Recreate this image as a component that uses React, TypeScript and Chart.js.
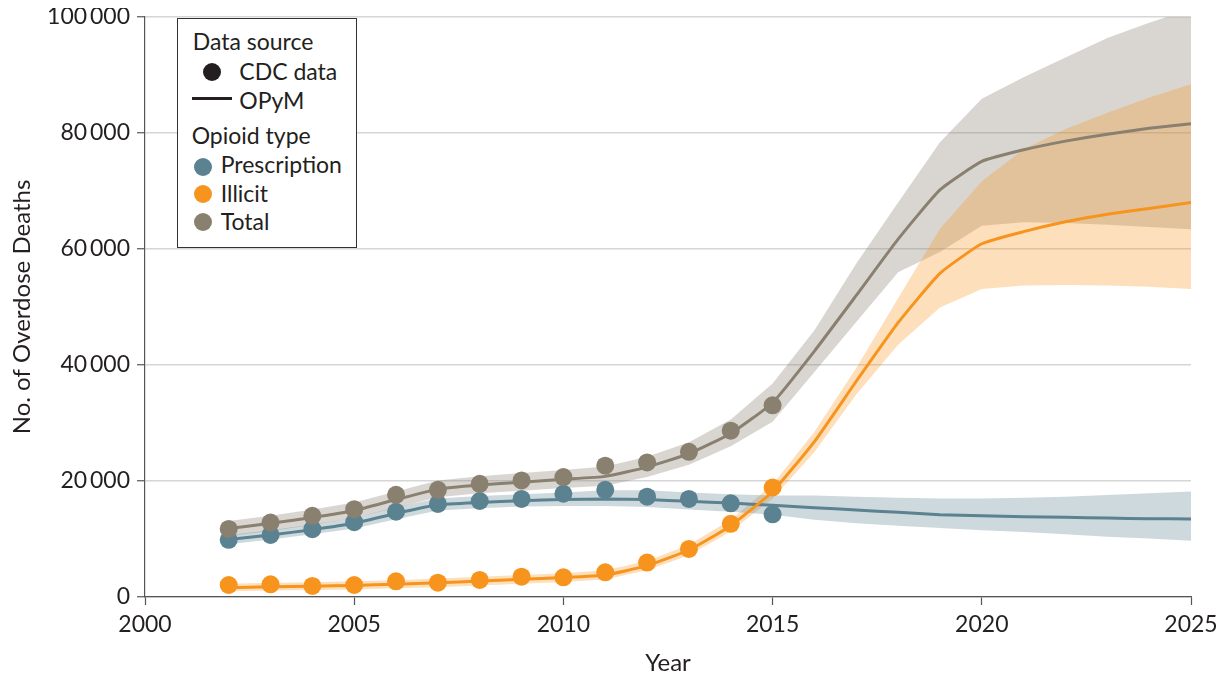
import React, { useEffect, useRef } from "react";
import { Chart, registerables } from "chart.js";

Chart.register(...registerables);

// ---- Data ----
const cdcYears = [2002, 2003, 2004, 2005, 2006, 2007, 2008, 2009, 2010, 2011, 2012, 2013, 2014, 2015];
const cdcPrescription = [9850, 10700, 11700, 12900, 14700, 16050, 16550, 16900, 17800, 18480, 17300, 16900, 16150, 14250];
const cdcIllicit = [2070, 2190, 1900, 2070, 2700, 2470, 2940, 3500, 3400, 4260, 5930, 8290, 12610, 18880];
const cdcTotal = [11740, 12830, 13990, 15150, 17620, 18480, 19520, 20090, 20670, 22650, 23200, 25040, 28670, 33040];

const modelYears = [2002, 2003, 2004, 2005, 2006, 2007, 2008, 2009, 2010, 2011, 2012, 2013, 2014, 2015, 2016, 2017, 2018, 2019, 2020, 2021, 2022, 2023, 2024, 2025];
const modelPrescription = [9900, 10700, 11600, 12700, 14400, 15900, 16300, 16600, 16800, 16900, 16800, 16500, 16200, 15800, 15400, 15000, 14600, 14200, 14000, 13850, 13750, 13600, 13500, 13450];
const prescriptionUpper = [10700, 11500, 12500, 13600, 15500, 17000, 17400, 17700, 18000, 18400, 18400, 18000, 17700, 17500, 17500, 17300, 17100, 17000, 17000, 17100, 17300, 17600, 17900, 18200];
const prescriptionLower = [9100, 9900, 10800, 11800, 13400, 14900, 15300, 15600, 15700, 15700, 15500, 15100, 14700, 14200, 13300, 12700, 12300, 11900, 11500, 11200, 10800, 10400, 10100, 9700];

const modelIllicit = [1600, 1750, 1850, 2000, 2200, 2450, 2750, 3050, 3350, 3800, 5400, 8100, 12300, 18200, 26800, 37200, 47300, 55800, 60900, 63000, 64700, 66000, 67000, 68000];
const illicitUpper = [2300, 2450, 2550, 2700, 2900, 3200, 3500, 3800, 4100, 4600, 6200, 9000, 13300, 19400, 28500, 39500, 51500, 63500, 71700, 77200, 80700, 83500, 86100, 88400];
const illicitLower = [1000, 1100, 1200, 1300, 1500, 1700, 2000, 2300, 2600, 3000, 4600, 7200, 11300, 17000, 25000, 34900, 43500, 49900, 53100, 53700, 53800, 53700, 53500, 53100];

const modelTotal = [11800, 12700, 13700, 14900, 16800, 18600, 19300, 19800, 20300, 20800, 22400, 24700, 28200, 33500, 42400, 52000, 61700, 70200, 75100, 77100, 78600, 79800, 80800, 81600];
const totalUpper = [13100, 14000, 15100, 16300, 18200, 20100, 20800, 21400, 21900, 22500, 24200, 26700, 30600, 36800, 46000, 57500, 68000, 78400, 85900, 89600, 93000, 96400, 99000, 101400];
const totalLower = [10500, 11400, 12400, 13600, 15400, 17200, 17900, 18300, 18800, 19200, 20700, 22800, 26000, 30200, 38800, 47400, 56000, 59500, 64000, 64600, 64500, 64200, 63800, 63400];

const yTickValues = [0, 20000, 40000, 60000, 80000, 100000];
const yTickLabels = ["0", "20\u2009000", "40\u2009000", "60\u2009000", "80\u2009000", "100\u2009000"];
const xTickValues = [2000, 2005, 2010, 2015, 2020, 2025];
const xTickLabels = ["2000", "2005", "2010", "2015", "2020", "2025"];

// ---- Style ----
const C_RX = "#5b8290";
const C_IL = "#f7941d";
const C_TO = "#8a8070";
const BAND_RX = "rgba(91,130,144,0.30)";
const BAND_IL = "rgba(247,148,29,0.30)";
const BAND_TO = "rgba(138,128,112,0.32)";
const TEXT = "#231f20";
const FONT = "Lato, 'Noto Sans', sans-serif";

const pts = (xs: number[], ys: number[]) => xs.map((x, i) => ({ x, y: ys[i] }));

const band = (ys: number[], color: string, fill: any, order: number) => ({
  data: pts(modelYears, ys),
  borderWidth: 0,
  pointRadius: 0,
  backgroundColor: color,
  borderColor: "transparent",
  fill,
  order,
  tension: 0,
});

const line = (ys: number[], color: string) => ({
  data: pts(modelYears, ys),
  borderColor: color,
  borderWidth: 3,
  pointRadius: 0,
  fill: false,
  order: 2,
  tension: 0.15,
});

const dots = (ys: number[], color: string) => ({
  data: pts(cdcYears, ys),
  showLine: false,
  pointRadius: 9,
  pointHoverRadius: 9,
  pointBackgroundColor: color,
  pointBorderWidth: 0,
  borderColor: color,
  fill: false,
  order: 1,
});

export default function App() {
  const ref = useRef<HTMLCanvasElement | null>(null);

  useEffect(() => {
    if (!ref.current) return;
    const chart = new Chart(ref.current, {
      type: "line",
      data: {
        datasets: [
          band(totalUpper, BAND_TO, "+1", 5),
          band(totalLower, BAND_TO, false, 5),
          band(illicitUpper, BAND_IL, "+1", 4),
          band(illicitLower, BAND_IL, false, 4),
          band(prescriptionUpper, BAND_RX, "+1", 3),
          band(prescriptionLower, BAND_RX, false, 3),
          line(modelTotal, C_TO),
          line(modelIllicit, C_IL),
          line(modelPrescription, C_RX),
          dots(cdcTotal, C_TO),
          dots(cdcPrescription, C_RX),
          dots(cdcIllicit, C_IL),
        ] as any,
      },
      options: {
        responsive: false,
        animation: false,
        devicePixelRatio: 1,
        layout: { padding: { top: 9, right: 25, bottom: 0, left: 0 } },
        plugins: { legend: { display: false }, tooltip: { enabled: false } },
        scales: {
          x: {
            type: "linear",
            min: 2000,
            max: 2025,
            afterBuildTicks: (s: any) => {
              s.ticks = xTickValues.map((v) => ({ value: v }));
            },
            afterFit: (s: any) => {
              s.height = 79;
              s.paddingLeft = 0;
              s.paddingRight = 0;
            },
            ticks: {
              autoSkip: false,
              maxRotation: 0,
              padding: 6,
              color: TEXT,
              font: { family: FONT, size: 23 },
              callback: (v: any) => {
                const i = xTickValues.indexOf(Number(v));
                return i >= 0 ? xTickLabels[i] : "";
              },
            },
            grid: { drawOnChartArea: false, tickLength: 8, tickColor: "#555", tickWidth: 1.2 },
            border: { display: true, color: "#555", width: 1.2 },
            title: {
              display: true,
              text: "Year",
              color: TEXT,
              font: { family: FONT, size: 24, lineHeight: 1 },
              padding: { top: 0, bottom: 1 },
            },
          },
          y: {
            type: "linear",
            min: 0,
            max: 100000,
            afterBuildTicks: (s: any) => {
              s.ticks = yTickValues.map((v) => ({ value: v }));
            },
            afterFit: (s: any) => {
              s.width = 137;
              s.paddingTop = 0;
              s.paddingBottom = 0;
            },
            ticks: {
              padding: 7,
              color: TEXT,
              font: { family: FONT, size: 23 },
              callback: (v: any) => {
                const i = yTickValues.indexOf(Number(v));
                return i >= 0 ? yTickLabels[i] : "";
              },
            },
            grid: { color: "#d6d6d6", lineWidth: 1.5, tickLength: 8, tickColor: "#555", tickWidth: 1.2 },
            border: { display: true, color: "#555", width: 1.2 },
            title: {
              display: true,
              text: "No. of Overdose Deaths",
              color: TEXT,
              font: { family: FONT, size: 24, lineHeight: 1.1 },
              padding: { top: 1, bottom: 0 },
            },
          },
        },
      } as any,
    });
    return () => chart.destroy();
  }, []);

  const txt = (text: string, left: number, top: number) => (
    <div
      style={{
        position: "absolute",
        left,
        top,
        font: `23px ${FONT}`,
        lineHeight: "26px",
        color: TEXT,
        whiteSpace: "nowrap",
      }}
    >
      {text}
    </div>
  );
  const dot = (color: string, left: number, top: number) => (
    <div
      style={{
        position: "absolute",
        left,
        top,
        width: 18,
        height: 18,
        borderRadius: "50%",
        background: color,
      }}
    />
  );

  return (
    <div style={{ position: "relative", width: 1208, height: 668 }}>
      <canvas ref={ref} width={1208} height={668} style={{ display: "block", width: 1208, height: 668 }} />
      <div
        style={{
          position: "absolute",
          left: 169,
          top: 10,
          width: 180,
          height: 230,
          boxSizing: "border-box",
          border: "1px solid #333",
          background: "#fff",
        }}
      >
        {txt("Data source", 14.7, 9)}
        {dot("#231f20", 25, 43.7)}
        {txt("CDC data", 61.3, 39)}
        <div style={{ position: "absolute", left: 13.7, top: 77.8, width: 40, height: 3, background: "#231f20" }} />
        {txt("OPyM", 61.3, 68)}
        {txt("Opioid type", 13.7, 103.3)}
        {dot(C_RX, 15.7, 138.7)}
        {txt("Prescription", 42.7, 132)}
        {dot(C_IL, 15.7, 166.3)}
        {txt("Illicit", 42.7, 160.7)}
        {dot(C_TO, 15.7, 194.3)}
        {txt("Total", 42.7, 189)}
      </div>
    </div>
  );
}
